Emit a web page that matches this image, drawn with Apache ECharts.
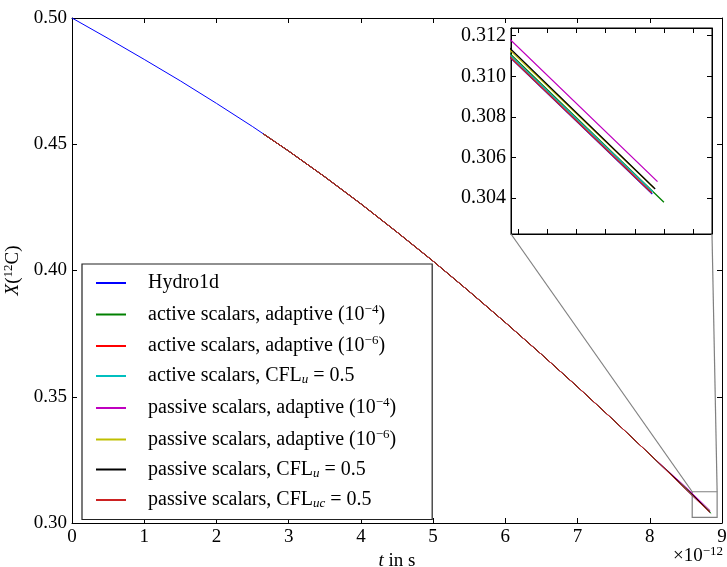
<!DOCTYPE html>
<html>
<head>
<meta charset="utf-8">
<script src="https://cdn.jsdelivr.net/npm/echarts@6/dist/echarts.min.js"></script>
<style>
html,body{margin:0;padding:0;background:#fff;}
#chart{width:727px;height:567px;}
</style>
</head>
<body>
<div id="chart"></div>
<script>
// ---- data (time in units of 1e-12 s) ----
const seriesNames = [
  'Hydro1d',
  'active scalars, adaptive (10^-4)',
  'active scalars, adaptive (10^-6)',
  'active scalars, CFL_u = 0.5',
  'passive scalars, adaptive (10^-4)',
  'passive scalars, adaptive (10^-6)',
  'passive scalars, CFL_u = 0.5',
  'passive scalars, CFL_uc = 0.5'
];
const legendLabels = [
  'Hydro1d',
  'active scalars, adaptive (10{sup|−4})',
  'active scalars, adaptive (10{sup|−6})',
  'active scalars, CFL{sub|u} = 0.5',
  'passive scalars, adaptive (10{sup|−4})',
  'passive scalars, adaptive (10{sup|−6})',
  'passive scalars, CFL{sub|u} = 0.5',
  'passive scalars, CFL{sub|uc} = 0.5'
];
const seriesColors = ['#0000ff','#008000','#ff0000','#00bfbf','#bf00bf','#bfbf00','#000000','#cc2222'];
const tCommon = [0, 0.5, 1, 1.5, 2, 2.5, 2.65, 3, 3.5, 4, 4.5, 5, 5.5, 6, 6.5, 7, 7.5, 8];
const xCommon = [0.5000, 0.4919, 0.4836, 0.4751, 0.4662, 0.4570, 0.4541, 0.4473, 0.4371, 0.4264, 0.4152, 0.4037, 0.3917, 0.3794, 0.3668, 0.3539, 0.3407, 0.3272];
const startT = [0, 2.65, 2.65, 2.65, 2.65, 2.65, 2.65, 2.65];
const tailT = [8.5, 8.5, 8.5, 8.5, 8.5, 8.5, 8.5, 8.5];
const tailX = [0.3133, 0.3135, 0.3134, 0.3134, 0.3142, 0.31365, 0.31376, 0.3133];
const endT = [8.830, 8.850, 8.830, 8.831, 8.839, 8.833, 8.835, 8.829];
const endX = [0.3042, 0.30379, 0.30431, 0.3043, 0.30481, 0.30450, 0.30445, 0.30425];

const xTicks = [0, 1, 2, 3, 4, 5, 6, 7, 8, 9];
const yTicks = [0.30, 0.35, 0.40, 0.45, 0.50];
const insetXRange = [8.5875, 8.9325];
const insetYRange = [0.30223, 0.31238];
const insetXTicks = [8.60, 8.65, 8.70, 8.75, 8.80, 8.85, 8.90];
const insetYTicks = [0.304, 0.306, 0.308, 0.310, 0.312];

// ---- chart ----
const FONT = 'Liberation Serif';
const chart = echarts.init(document.getElementById('chart'), null, {renderer: 'canvas'});

function seriesData(i) {
  const d = [];
  for (let k = 0; k < tCommon.length; k++) {
    if (tCommon[k] >= startT[i]) d.push([tCommon[k], xCommon[k]]);
  }
  d.push([tailT[i], tailX[i]]);
  d.push([endT[i], endX[i]]);
  return d;
}

const richText = {
  sup: {fontFamily: FONT, fontSize: 13, padding: [0, 0, 10, 0], color: '#000'},
  sub: {fontFamily: FONT, fontSize: 13, fontStyle: 'italic', padding: [8, 0, 0, 0], color: '#000'},
  i: {fontFamily: FONT, fontSize: 19, fontStyle: 'italic', color: '#000'}
};

const tickStyle = {show: true, inside: true, length: 5, lineStyle: {color: '#000', width: 1}};
const lineAxis = {show: true, onZero: false, lineStyle: {color: '#000', width: 1}};

const series = [];
for (let i = 0; i < seriesNames.length; i++) {
  const data = seriesData(i);
  series.push({
    name: seriesNames[i], type: 'line', xAxisIndex: 0, yAxisIndex: 0,
    data: data, showSymbol: false, symbol: 'none', animation: false,
    lineStyle: {color: seriesColors[i], width: 1}, itemStyle: {color: seriesColors[i]},
    z: 2 + i
  });
  series.push({
    name: seriesNames[i], type: 'line', xAxisIndex: 2, yAxisIndex: 2,
    data: data, showSymbol: false, symbol: 'none', animation: false, clip: true,
    lineStyle: {color: seriesColors[i], width: 1.3}, itemStyle: {color: seriesColors[i]},
    z: 2 + i
  });
}

const option = {
  animation: false,
  backgroundColor: '#fff',
  grid: [
    {left: 72, top: 18, width: 650, height: 505, show: false, outerBoundsMode: 'none', containLabel: false},
    {left: 511, top: 28, width: 201, height: 206, show: true, backgroundColor: '#fff', borderColor: '#000', borderWidth: 1, outerBoundsMode: 'none', containLabel: false}
  ],
  xAxis: [
    {gridIndex: 0, type: 'value', min: xTicks[0], max: xTicks[xTicks.length - 1], interval: 1, position: 'bottom',
     axisLine: lineAxis, axisTick: tickStyle, splitLine: {show: false},
     axisLabel: {fontFamily: FONT, fontSize: 19, color: '#000', margin: 5},
     name: '{i|t} in s', nameLocation: 'middle', nameGap: 20,
     nameTextStyle: {fontFamily: FONT, fontSize: 19, color: '#000', rich: richText}},
    {gridIndex: 0, type: 'value', min: xTicks[0], max: xTicks[xTicks.length - 1], interval: 1, position: 'top',
     axisLine: lineAxis, axisTick: tickStyle, splitLine: {show: false}, axisLabel: {show: false}},
    {gridIndex: 1, type: 'value', min: insetXRange[0], max: insetXRange[1], position: 'bottom',
     axisLine: lineAxis, axisTick: Object.assign({customValues: insetXTicks}, tickStyle), splitLine: {show: false},
     axisLabel: {show: false, customValues: insetXTicks}},
    {gridIndex: 1, type: 'value', min: insetXRange[0], max: insetXRange[1], position: 'top',
     axisLine: lineAxis, axisTick: Object.assign({customValues: insetXTicks}, tickStyle), splitLine: {show: false},
     axisLabel: {show: false, customValues: insetXTicks}}
  ],
  yAxis: [
    {gridIndex: 0, type: 'value', min: yTicks[0], max: yTicks[yTicks.length - 1], interval: 0.05, position: 'left',
     axisLine: lineAxis, axisTick: tickStyle, splitLine: {show: false},
     axisLabel: {fontFamily: FONT, fontSize: 19, color: '#000', margin: 5, formatter: v => v.toFixed(2)},
     name: '{i|X}({sup|12}C)', nameLocation: 'middle', nameGap: 46, nameRotate: 90,
     nameTextStyle: {fontFamily: FONT, fontSize: 19, color: '#000', rich: richText}},
    {gridIndex: 0, type: 'value', min: yTicks[0], max: yTicks[yTicks.length - 1], interval: 0.05, position: 'right',
     axisLine: lineAxis, axisTick: tickStyle, splitLine: {show: false}, axisLabel: {show: false}},
    {gridIndex: 1, type: 'value', min: insetYRange[0], max: insetYRange[1], position: 'left',
     axisLine: lineAxis, axisTick: Object.assign({customValues: insetYTicks}, tickStyle), splitLine: {show: false},
     axisLabel: {fontFamily: FONT, fontSize: 20, color: '#000', margin: 5, customValues: insetYTicks, formatter: v => v.toFixed(3)}},
    {gridIndex: 1, type: 'value', min: insetYRange[0], max: insetYRange[1], position: 'right',
     axisLine: lineAxis, axisTick: Object.assign({customValues: insetYTicks}, tickStyle), splitLine: {show: false},
     axisLabel: {show: false, customValues: insetYTicks}}
  ],
  legend: {
    data: seriesNames, orient: 'vertical', left: 82, top: 264,
    padding: [9, 36, 9, 14], itemGap: 10, itemWidth: 30, itemHeight: 2, icon: 'rect',
    backgroundColor: '#fff', borderColor: '#222', borderWidth: 1.2, borderRadius: 0,
    formatter: name => legendLabels[seriesNames.indexOf(name)],
    textStyle: {fontFamily: FONT, fontSize: 20, color: '#000', lineHeight: 20, padding: [0, 0, 0, 17], rich: richText},
    selectedMode: false
  },
  graphic: [
    {id: 'exp', type: 'text', left: 673, top: 545,
     style: {text: '×10{sup|−12}', fontFamily: FONT, fontSize: 19, fill: '#000',
             rich: {sup: {fontFamily: FONT, fontSize: 13, padding: [0, 0, 10, 0], fill: '#000'}}}}
  ],
  series: series
};
chart.setOption(option);

// zoom rectangle and connector lines from the axis scales
const rTL = chart.convertToPixel({gridIndex: 0}, [insetXRange[0], insetYRange[1]]);
const rBR = chart.convertToPixel({gridIndex: 0}, [insetXRange[1], insetYRange[0]]);
const rTR = chart.convertToPixel({gridIndex: 0}, [insetXRange[1], insetYRange[1]]);
const iBL = chart.convertToPixel({gridIndex: 1}, [insetXRange[0], insetYRange[0]]);
const iBR = chart.convertToPixel({gridIndex: 1}, [insetXRange[1], insetYRange[0]]);
const gray = {stroke: '#808080', lineWidth: 1.2, fill: null};
chart.setOption({
  graphic: [
    {id: 'zrect', type: 'rect', z: 1, shape: {x: rTL[0], y: rTL[1], width: rBR[0] - rTL[0], height: rBR[1] - rTL[1]}, style: gray},
    {id: 'c1', type: 'line', z: 1, shape: {x1: iBL[0], y1: iBL[1], x2: rTL[0], y2: rTL[1]}, style: gray},
    {id: 'c2', type: 'line', z: 1, shape: {x1: iBR[0], y1: iBR[1], x2: rTR[0], y2: rTR[1]}, style: gray}
  ]
});
</script>
</body>
</html>
